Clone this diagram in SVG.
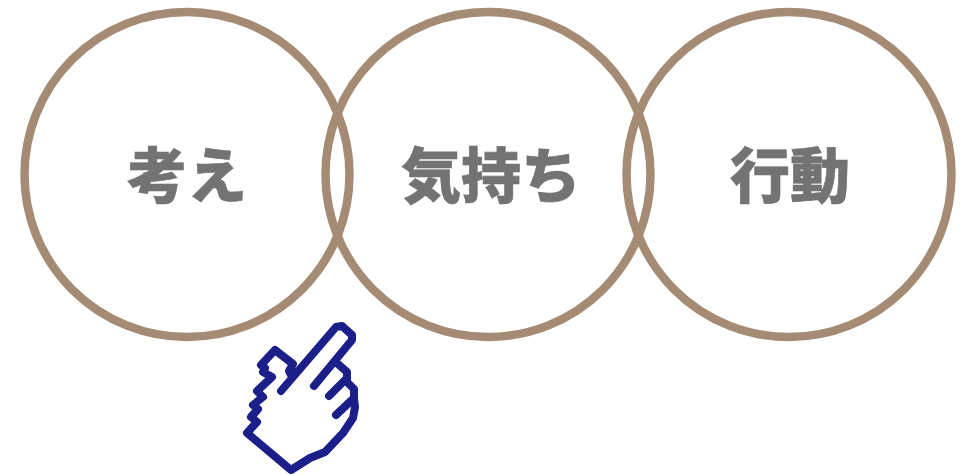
<svg xmlns="http://www.w3.org/2000/svg" width="965" height="475" viewBox="0 0 965 475">
<style>
.c{fill:none;stroke:#a58a74;stroke-width:8.5}
.t{font-family:"Noto Sans CJK JP",sans-serif;font-weight:900;font-size:60px;fill:#737373;stroke:#737373;stroke-width:.6;text-anchor:middle}
.h{fill:none;stroke:#1c1f8a;stroke-width:8;stroke-linecap:round;stroke-linejoin:round}
</style>
<rect width="965" height="475" fill="#fff"/>
<g id="n1"><circle class="c" cx="187" cy="174.500" r="162.500"/><text class="t" x="187" y="197.500">考え</text></g>
<g id="n2"><circle class="c" cx="488" cy="174.500" r="162.500"/><text class="t" x="491" y="197.500">気持ち</text></g>
<g id="n3"><circle class="c" cx="789" cy="174.500" r="162.500"/><text class="t" x="790" y="197.500">行動</text></g>
<g id="hand"><path class="h" d="M281 391L336 327L342 326L352 335L352 340L314 386M329 396L345 380M336 415L354 398M338 364L347 372L347 382L354 389L354 399L355 407L353 418L343 433L325 452L310 458L291 470L247 433L257 422L251 417L258 409L253 405L263 397L257 391L272 377L263 372L265 368L261 365L275 350L293 364L289 371L292 377"/></g>
</svg>
